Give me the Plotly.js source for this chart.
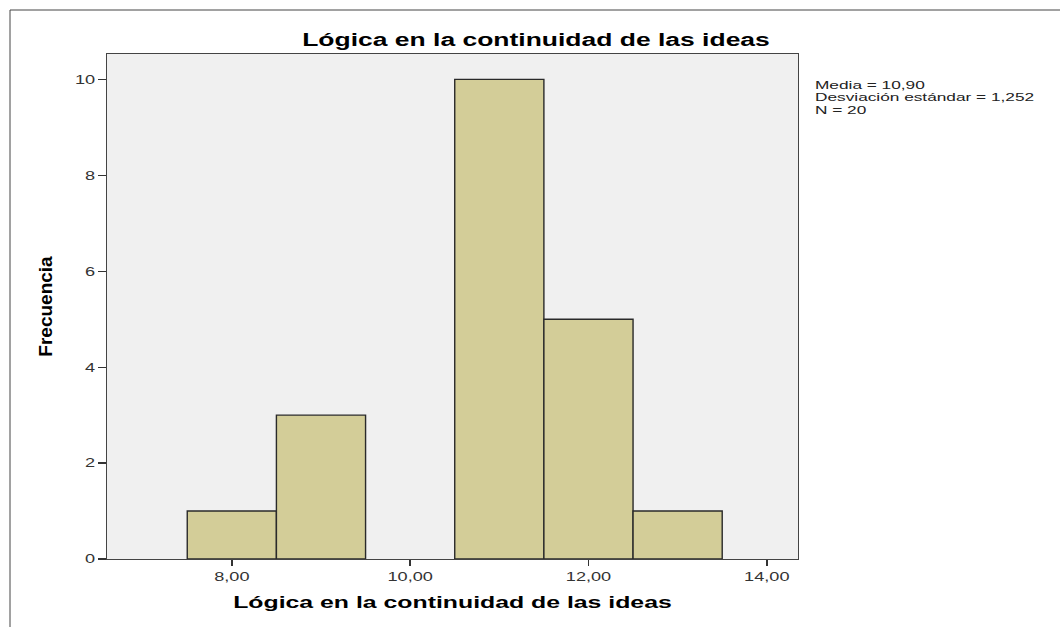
<!DOCTYPE html>
<html><head><meta charset="utf-8">
<script src="https://cdn.plot.ly/plotly-3.0.1.min.js"></script>
<style>html,body{margin:0;padding:0;background:#fff}#chart{width:1060px;height:627px}</style>
</head><body><div id="chart"></div>
<script>
const binCenters = [8, 9, 11, 12, 13];
const frequencies = [1, 3, 10, 5, 1];
const xTickVals = [8, 10, 12, 14];
const xTickText = ['8,00', '10,00', '12,00', '14,00'];
const yTickVals = [0, 2, 4, 6, 8, 10];
const statsLines = ['Media = 10,90', 'Desviación estándar = 1,252', 'N = 20'];
const titleText = 'Lógica en la continuidad de las ideas';
const yTitleText = 'Frecuencia';

const L = 107, R = 262, T = 54, B = 68, W = 1060, H = 627;
const pw = W - L - R, ph = H - T - B;
const px = v => (v - L) / pw;
const py = v => (H - B - v) / ph;
const STRETCH = 1.45;

const trace = {
  type: 'bar', x: binCenters, y: frequencies, width: 1,
  marker: {color: '#d3cd98', line: {color: '#2a2a2a', width: 1.4}},
  hoverinfo: 'skip'
};
const layout = {
  width: W, height: H,
  margin: {l: L, r: R, t: T, b: B},
  paper_bgcolor: '#ffffff', plot_bgcolor: '#f0f0f0',
  showlegend: false,
  font: {family: 'Arial, Liberation Sans, sans-serif', color: '#333'},
  title: {text: titleText, x: 536 / W, xanchor: 'center', y: 1 - 40/H, yanchor: 'middle',
          font: {size: 18, color: '#000', weight: 'bold'}},
  xaxis: {range: [6.6, 14.35], tickvals: xTickVals, ticktext: xTickText,
          ticks: 'outside', ticklen: 6, tickwidth: 1.5, tickcolor: '#333',
          showline: true, linecolor: '#444', linewidth: 1.3, mirror: true,
          showgrid: false, zeroline: false, tickfont: {size: 12.5, color: '#333'},
          title: {text: titleText, standoff: 12, font: {size: 17, color: '#000', weight: 'bold'}}},
  yaxis: {range: [0, 10.53], tickvals: yTickVals,
          ticks: 'outside', ticklen: 8, tickwidth: 1.3, tickcolor: '#333',
          showline: true, linecolor: '#444', linewidth: 1.3, mirror: true,
          showgrid: false, zeroline: false, tickfont: {size: 12.5, color: '#333'},
          title: {text: yTitleText, standoff: 23, font: {size: 19, color: '#000', weight: 'bold'}}},
  annotations: statsLines.map((s, i) => ({
    xref: 'paper', yref: 'paper', x: px(813), y: py(85 + 12.5 * i), xanchor: 'left', yanchor: 'middle',
    align: 'left', showarrow: false, text: s,
    font: {size: 11.5, color: '#222'}
  })),
  shapes: [
    {type: 'line', xref: 'paper', yref: 'paper', x0: px(10), x1: px(10), y0: py(10), y1: py(640), line: {color: '#444', width: 1}},
    {type: 'line', xref: 'paper', yref: 'paper', x0: px(10), x1: px(1070), y0: py(10), y1: py(10), line: {color: '#444', width: 1}}
  ]
};
Plotly.newPlot('chart', [trace], layout, {displayModeBar: false, staticPlot: true}).then(gd => {
  const factors = {'text.gtitle': 1.47, 'text.xtitle': 1.46, 'g.xtick text': STRETCH,
                   'g.ytick text': STRETCH, 'text.annotation-text': 1.5};
  Object.keys(factors).forEach(sel => {
    gd.querySelectorAll(sel).forEach(t => {
      const len = t.getComputedTextLength();
      if (len > 0) {
        t.setAttribute('textLength', (len * factors[sel]).toFixed(1));
        t.setAttribute('lengthAdjust', 'spacingAndGlyphs');
      }
    });
  });
});
</script></body></html>
